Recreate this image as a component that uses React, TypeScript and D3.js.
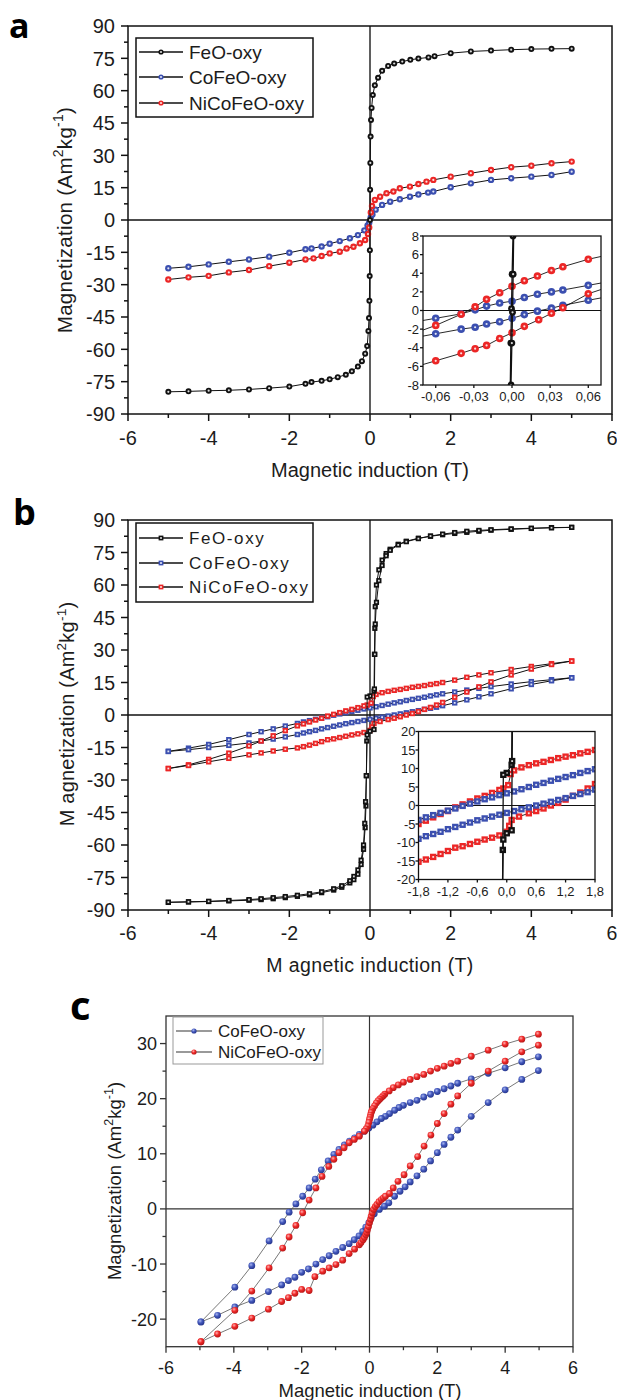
import React from 'react';
import * as d3 from 'd3';

const FONT = "'Liberation Sans', Arial, Helvetica, sans-serif";
const TXT = '#1c1c1c';
const BLUE = '#3b4fb0';
const RED = '#ec2626';
const BLK = '#111111';

// ---------------- Panel a : main loop ----------------
const aFeX = [-5, -4.5, -4, -3.5, -3, -2.5, -2, -1.6, -1.45, -1.2, -1.0, -0.8, -0.6, -0.45, -0.3, -0.2, -0.12, -0.07, -0.04, -0.025, -0.015, -0.008, -0.003, 0, 0.003, 0.008, 0.015, 0.025, 0.04, 0.07, 0.12, 0.2, 0.3, 0.45, 0.6, 0.8, 1.0, 1.2, 1.45, 1.6, 2, 2.5, 3, 3.5, 4, 4.5, 5];
const aFeY = [-79.7, -79.5, -79.2, -79.0, -78.6, -78.0, -77.3, -76.0, -75.2, -74.6, -73.9, -72.9, -71.8, -70.2, -68.0, -65.5, -62.0, -58.5, -51.5, -45.5, -37.5, -26, -14, 0, 14, 26.5, 38.7, 46.4, 52, 58, 62.5, 66, 69.2, 71.5, 72.6, 73.5, 74.3, 74.9, 75.4, 76.0, 77.4, 78.2, 78.6, 79.0, 79.3, 79.4, 79.5];
const aCoX = [-5, -4.5, -4, -3.5, -3, -2.5, -2, -1.6, -1.45, -1.2, -1.0, -0.75, -0.5, -0.3, -0.14, -0.06, -0.02, 0.02, 0.06, 0.14, 0.3, 0.5, 0.74, 0.99, 1.2, 1.44, 1.57, 2, 2.5, 3, 3.5, 4, 4.5, 5];
const aCoY = [-22.4, -21.7, -20.6, -19.4, -18.3, -17.0, -15.2, -13.6, -13.2, -12.3, -11.0, -9.8, -8.5, -7.0, -4.8, -2.5, -1.3, 1.3, 2.5, 4.8, 7.0, 8.5, 9.6, 10.8, 11.8, 12.7, 13.2, 15.2, 17.0, 18.6, 19.4, 20.1, 20.9, 22.4];
const aNiX = [-5, -4.5, -4, -3.5, -3, -2.5, -2, -1.6, -1.4, -1.2, -1.0, -0.75, -0.58, -0.41, -0.25, -0.12, -0.05, -0.02, 0.02, 0.05, 0.12, 0.25, 0.41, 0.58, 0.74, 0.99, 1.2, 1.4, 1.57, 2, 2.5, 3, 3.5, 4, 4.5, 5];
const aNiY = [-27.6, -26.6, -25.9, -24.3, -23.2, -21.4, -19.8, -18.3, -17.8, -16.7, -15.5, -14.7, -13.2, -12.4, -10.8, -9.3, -6.5, -3.5, 3.5, 6.5, 9.3, 10.8, 12.4, 13.2, 14.7, 15.5, 16.7, 17.8, 18.6, 20.1, 21.7, 23.2, 24.5, 25.2, 26.3, 27.1];

// ---------------- Panel a : inset (low field) ----------------
const aiNiUpX = [0.08, 0.06, 0.04, 0.031, 0.02, 0.0097, 0, -0.0097, -0.02, -0.029, -0.04, -0.06, -0.08];
const aiNiUpY = [6.1, 5.5, 4.7, 4.3, 3.7, 3.2, 2.6, 1.9, 1.2, 0.4, -0.4, -1.6, -2.6];
const aiNiDnX = [-0.08, -0.06, -0.04, -0.029, -0.02, -0.0097, 0, 0.0097, 0.021, 0.031, 0.04, 0.06, 0.08];
const aiNiDnY = [-6.2, -5.4, -4.6, -4.1, -3.75, -3.0, -2.4, -1.7, -1.0, -0.3, 0.3, 1.8, 2.7];
const aiCoUpX = [0.08, 0.06, 0.04, 0.031, 0.02, 0.0097, 0, -0.0097, -0.02, -0.029, -0.04, -0.06, -0.08];
const aiCoUpY = [3.2, 2.7, 2.2, 2.0, 1.75, 1.4, 1.0, 0.8, 0.47, 0.07, -0.36, -0.84, -1.3];
const aiCoDnX = [-0.08, -0.06, -0.04, -0.029, -0.02, -0.0097, 0, 0.0097, 0.02, 0.031, 0.04, 0.06, 0.08];
const aiCoDnY = [-3.0, -2.5, -2.0, -1.8, -1.45, -1.2, -0.84, -0.44, -0.07, 0.25, 0.55, 1.1, 1.6];
const aiFeDnX = [0.0025, 0.0008, 0.0001, -0.0004, -0.0009, -0.0025];
const aiFeDnY = [20, 8, 3.9, 0.2, -3.5, -20];
const aiFeUpX = [-0.0025, -0.0008, -0.0001, 0.0004, 0.0009, 0.0025];
const aiFeUpY = [-20, -8, -3.5, -0.2, 3.9, 20];

// ---------------- Panel b : hysteresis loops ----------------
const bFeDescX = [5, 4.5, 4, 3.5, 3, 2.7, 2.4, 2.1, 1.8, 1.5, 1.2, 0.9, 0.7, 0.5, 0.4, 0.3, 0.22, 0.16, 0.13, 0.12, 0.11, 0.1, 0, -0.07, -0.08, -0.09, -0.1, -0.12, -0.16, -0.22, -0.3, -0.4, -0.5, -0.7, -0.9, -1.2, -1.5, -1.8, -2.1, -2.4, -2.7, -3, -3.5, -4, -4.5, -5];
const bFeDescY = [86.6, 86.5, 86.1, 85.7, 85.3, 84.8, 84.3, 83.8, 83.2, 82.5, 81.6, 80.2, 78.8, 76.5, 74.5, 71.5, 67, 60, 50, 40, 28, 11, 8.8, 8.3, -12, -28, -42, -52, -62, -69, -73.5, -76, -77.5, -79.5, -80.8, -82, -83, -83.7, -84.3, -84.8, -85.2, -85.5, -85.8, -86.1, -86.3, -86.5];
const bFeAscX = [-5, -4.5, -4, -3.5, -3, -2.7, -2.4, -2.1, -1.8, -1.5, -1.2, -0.9, -0.7, -0.5, -0.4, -0.3, -0.22, -0.16, -0.13, -0.11, -0.09, -0.07, 0, 0.1, 0.11, 0.12, 0.13, 0.16, 0.22, 0.3, 0.4, 0.5, 0.7, 0.9, 1.2, 1.5, 1.8, 2.1, 2.4, 2.7, 3, 3.5, 4, 4.5, 5];
const bFeAscY = [-86.4, -86.2, -86.0, -85.6, -85.2, -84.8, -84.3, -83.8, -83.2, -82.5, -81.6, -80.2, -78.8, -76.5, -74.5, -71.5, -67, -60, -50, -40, -28, -9.2, -7.5, -6.7, 12, 28, 42, 52, 62, 69, 73.5, 76, 78.5, 80.0, 81.4, 82.6, 83.5, 84.2, 84.8, 85.2, 85.5, 85.9, 86.2, 86.4, 86.6];
const bCoDescX = [5, 4.5, 4, 3.5, 3, 2.7, 2.4, 2.1, 1.8, 1.65, 1.5, 1.35, 1.2, 1.05, 0.9, 0.75, 0.6, 0.45, 0.3, 0.15, 0, -0.15, -0.3, -0.45, -0.6, -0.75, -0.9, -1.05, -1.2, -1.35, -1.5, -1.65, -1.8, -2.1, -2.4, -2.7, -3, -3.5, -4, -4.5, -5];
const bCoDescY = [17.2, 16.3, 15.4, 14.3, 13.1, 12.3, 11.5, 10.6, 9.8, 9.3, 8.8, 8.2, 7.7, 7.2, 6.7, 6.1, 5.6, 5.0, 4.4, 3.8, 3.3, 2.8, 2.2, 1.7, 1.1, 0.5, -0.1, -0.8, -1.4, -2.0, -2.6, -3.2, -3.9, -5.1, -6.4, -7.7, -9.0, -11.4, -13.6, -15.3, -16.8];
const bCoAscX = [-5, -4.5, -4, -3.5, -3, -2.7, -2.4, -2.1, -1.8, -1.65, -1.5, -1.35, -1.2, -1.05, -0.9, -0.75, -0.6, -0.45, -0.3, -0.15, 0, 0.15, 0.3, 0.45, 0.6, 0.75, 0.9, 1.05, 1.2, 1.35, 1.5, 1.65, 1.8, 2.1, 2.4, 2.7, 3, 3.5, 4, 4.5, 5];
const bCoAscY = [-16.8, -16.0, -15.0, -14.0, -12.9, -12.0, -11.1, -10.1, -9.0, -8.3, -7.7, -7.1, -6.4, -5.8, -5.2, -4.6, -4.0, -3.5, -3.0, -2.5, -2.0, -1.5, -1.0, -0.5, 0.0, 0.5, 1.0, 1.5, 2.0, 2.6, 3.1, 3.6, 4.3, 5.6, 7.0, 8.4, 9.8, 12.1, 14.1, 15.8, 17.2];
const bNiDescX = [5, 4.5, 4, 3.5, 3, 2.7, 2.4, 2.1, 1.8, 1.65, 1.5, 1.35, 1.2, 1.05, 0.9, 0.75, 0.6, 0.45, 0.3, 0.15, 0.08, 0.03, -0.07, -0.15, -0.3, -0.45, -0.6, -0.75, -0.9, -1.05, -1.2, -1.35, -1.5, -1.65, -1.8, -2.1, -2.4, -2.7, -3, -3.5, -4, -4.5, -5];
const bNiDescY = [24.9, 23.7, 22.4, 21.0, 19.5, 18.5, 17.4, 16.1, 15.0, 14.5, 14.1, 13.6, 13.2, 12.8, 12.3, 11.8, 11.4, 10.9, 10.3, 9.5, 8.5, 5.5, 4.6, 4.2, 3.4, 2.6, 1.9, 1.1, 0.3, -0.5, -1.5, -2.3, -3.2, -4.1, -5.0, -7.2, -9.6, -12.0, -14.3, -17.6, -20.5, -23.0, -24.7];
const bNiAscX = [-5, -4.5, -4, -3.5, -3, -2.7, -2.4, -2.1, -1.8, -1.65, -1.5, -1.35, -1.2, -1.05, -0.9, -0.75, -0.6, -0.45, -0.3, -0.15, 0, 0.05, 0.1, 0.25, 0.45, 0.6, 0.75, 0.9, 1.05, 1.2, 1.35, 1.5, 1.65, 1.8, 2.1, 2.4, 2.7, 3, 3.5, 4, 4.5, 5];
const bNiAscY = [-24.7, -23.3, -21.6, -20.0, -18.4, -17.5, -16.6, -15.8, -15.2, -14.6, -13.9, -13.1, -12.3, -11.4, -11.0, -10.4, -9.8, -9.2, -8.7, -8.1, -7.1, -5.5, -3.9, -3.0, -2.1, -1.5, -0.8, 0.0, 0.7, 1.6, 2.6, 3.5, 4.6, 5.8, 8.2, 10.6, 13.0, 15.3, 18.5, 21.2, 23.3, 24.9];

// ---------------- Panel c : loops ----------------
const cCoDescX = [4.98, 4.49, 4.0, 3.5, 3.0, 2.6, 2.4, 2.2, 2.0, 1.8, 1.6, 1.4, 1.2, 1.0, 0.87, 0.74, 0.59, 0.47, 0.35, 0.22, 0.1, -0.02, -0.15, -0.3, -0.44, -0.59, -0.74, -0.9, -1.05, -1.22, -1.42, -1.6, -1.78, -1.97, -2.17, -2.37, -2.56, -2.96, -3.47, -3.97, -4.97];
const cCoDescY = [27.6, 26.7, 25.6, 24.6, 23.6, 22.8, 22.3, 21.8, 21.3, 20.8, 20.3, 19.7, 19.3, 18.8, 18.4, 17.9, 17.3, 16.8, 16.4, 15.8, 15.2, 14.7, 14.1, 13.5, 12.9, 12.3, 11.6, 10.8, 9.9, 8.7, 7.1, 5.4, 3.8, 2.3, 0.9, -0.6, -2.3, -5.8, -10.3, -14.2, -20.5];
const cCoAscX = [-4.97, -4.48, -3.97, -3.47, -2.98, -2.59, -2.39, -2.2, -2.0, -1.8, -1.58, -1.38, -1.19, -0.99, -0.79, -0.6, -0.45, -0.31, -0.2, -0.11, -0.02, 0.05, 0.14, 0.29, 0.44, 0.57, 0.74, 0.9, 1.05, 1.2, 1.4, 1.6, 1.8, 2.0, 2.2, 2.4, 2.6, 3.0, 3.5, 4.0, 4.49, 4.98];
const cCoAscY = [-20.5, -19.3, -17.8, -16.6, -15.0, -13.8, -13.0, -12.4, -11.5, -10.9, -10.0, -9.2, -8.5, -7.7, -7.0, -6.3, -5.6, -4.9, -4.1, -3.3, -2.5, -1.6, -0.9, -0.1, 0.5, 1.1, 2.3, 3.2, 4.0, 4.9, 6.0, 7.2, 8.7, 10.2, 11.7, 13.0, 14.3, 16.8, 19.3, 21.6, 23.5, 25.1];
const cNiDescX = [4.98, 4.49, 4.0, 3.5, 3.0, 2.6, 2.4, 2.2, 2.0, 1.8, 1.6, 1.4, 1.2, 1.0, 0.85, 0.7, 0.58, 0.45, 0.4, 0.35, 0.3, 0.25, 0.2, 0.15, 0.1, 0.07, 0.05, 0.03, 0.015, 0, -0.02, -0.05, -0.1, -0.15, -0.3, -0.45, -0.6, -0.75, -0.9, -1.05, -1.2, -1.4, -1.58, -1.78, -1.97, -2.17, -2.37, -2.56, -2.96, -3.47, -3.97, -4.97];
const cNiDescY = [31.7, 30.8, 29.9, 28.8, 27.7, 26.8, 26.4, 25.9, 25.5, 25.0, 24.4, 24.0, 23.5, 23.0, 22.5, 22.0, 21.4, 20.8, 20.5, 20.2, 19.9, 19.6, 19.2, 18.7, 18.2, 17.8, 17.5, 17.0, 16.6, 16.2, 15.7, 15.0, 14.5, 14.1, 13.2, 12.6, 12.0, 11.1, 10.2, 9.0, 7.7, 5.9, 3.8, 1.6, -0.7, -3.0, -5.1, -7.1, -10.7, -14.9, -18.4, -24.1];
const cNiAscX = [-4.97, -4.48, -3.97, -3.47, -2.98, -2.59, -2.39, -2.2, -2.0, -1.78, -1.61, -1.38, -1.19, -0.99, -0.79, -0.6, -0.44, -0.3, -0.25, -0.19, -0.15, -0.11, -0.08, -0.06, -0.03, 0, 0.03, 0.05, 0.08, 0.12, 0.17, 0.22, 0.28, 0.35, 0.41, 0.47, 0.59, 0.7, 0.84, 1.02, 1.2, 1.42, 1.61, 1.81, 2.0, 2.2, 2.4, 2.6, 3.0, 3.5, 4.0, 4.49, 4.98];
const cNiAscY = [-24.1, -22.7, -21.3, -19.8, -18.2, -16.8, -16.1, -15.3, -14.6, -14.8, -12.3, -11.3, -10.7, -10.1, -9.3, -8.1, -7.3, -6.5, -6.1, -5.6, -5.2, -4.7, -4.3, -3.8, -3.2, -2.5, -1.9, -1.3, -0.7, -0.1, 0.4, 0.8, 1.3, 1.7, 2.0, 2.3, 2.8, 3.8, 5.0, 6.2, 7.8, 9.5, 11.4, 13.4, 15.5, 17.3, 19.0, 20.5, 22.8, 25.0, 26.8, 28.5, 29.7];

// ---------------- Ticks & labels ----------------
const mainXTicks = [-6, -4, -2, 0, 2, 4, 6];
const mainXMinor = [-5, -3, -1, 1, 3, 5];
const mainYTicks = [-90, -75, -60, -45, -30, -15, 0, 15, 30, 45, 60, 75, 90];
const mainYMinor = [-82.5, -67.5, -52.5, -37.5, -22.5, -7.5, 7.5, 22.5, 37.5, 52.5, 67.5, 82.5];
const aInsetXTicks = [-0.06, -0.03, 0, 0.03, 0.06];
const aInsetYTicks = [-8, -6, -4, -2, 0, 2, 4, 6, 8];
const bInsetXTicks = [-1.8, -1.2, -0.6, 0, 0.6, 1.2, 1.8];
const bInsetYTicks = [-20, -15, -10, -5, 0, 5, 10, 15, 20];
const cXTicks = [-6, -4, -2, 0, 2, 4, 6];
const cXMinor = [-5, -3, -1, 1, 3, 5];
const cYTicks = [-20, -10, 0, 10, 20, 30];
const cYMinor = [-15, -5, 5, 15, 25];
const names3 = ['FeO-oxy', 'CoFeO-oxy', 'NiCoFeO-oxy'];
const names2 = ['CoFeO-oxy', 'NiCoFeO-oxy'];

type Br = { x: number[]; y: number[] };
type Sc = d3.ScaleLinear<number, number>;

const lineGen = d3.line<[number, number]>();

function Marker({ cx, cy, color, shape, r }: { cx: number; cy: number; color: string; shape: string; r: number }) {
  if (shape === 'square') {
    return (
      <g>
        <rect x={cx - r} y={cy - r} width={2 * r} height={2 * r} fill={color} />
        <rect x={cx - 0.9} y={cy - 0.9} width={1.8} height={1.8} fill="#fff" opacity={0.85} />
      </g>
    );
  }
  if (shape === 'sphere') {
    return <circle cx={cx} cy={cy} r={r} fill={color === BLUE ? 'url(#gBlue)' : 'url(#gRed)'} />;
  }
  return (
    <g>
      <circle cx={cx} cy={cy} r={r} fill={color} />
      <circle cx={cx} cy={cy} r={1.1} fill="#fff" opacity={0.85} />
    </g>
  );
}

function SeriesG({ branches, sx, sy, color, shape, r, lineColor, lw }: { branches: Br[]; sx: Sc; sy: Sc; color: string; shape: string; r: number; lineColor: string; lw: number }) {
  return (
    <g>
      {branches.map((b, i) => {
        const pts = b.x.map((x, j) => [sx(x), sy(b.y[j])] as [number, number]);
        return (
          <g key={i}>
            <path d={lineGen(pts) || ''} fill="none" stroke={lineColor} strokeWidth={lw} />
            {pts.map(([px, py], j) => (
              <Marker key={j} cx={px} cy={py} color={color} shape={shape} r={r} />
            ))}
          </g>
        );
      })}
    </g>
  );
}

function Frame(p: {
  sx: Sc; sy: Sc; xT: number[]; xM: number[]; yT: number[]; yM: number[];
  xFmt: (v: number) => string; yFmt: (v: number) => string;
  maj: number; min: number; fs: number; stroke: string; sw: number;
  xLabY: number; yLabGap: number; zero: boolean; zeroV: boolean; ls?: number;
}) {
  const [x0, x1] = p.sx.range();
  const [y0, y1] = p.sy.range();
  return (
    <g>
      {p.zero && <line x1={x0} x2={x1} y1={p.sy(0)} y2={p.sy(0)} stroke={p.stroke} strokeWidth={p.sw * 0.9} />}
      {p.zeroV && <line x1={p.sx(0)} x2={p.sx(0)} y1={y1} y2={y0} stroke={p.stroke} strokeWidth={p.sw * 0.9} />}
      <rect x={x0} y={y1} width={x1 - x0} height={y0 - y1} fill="none" stroke={p.stroke} strokeWidth={p.sw} />
      {p.xT.map((v) => (
        <line key={'xt' + v} x1={p.sx(v)} x2={p.sx(v)} y1={y0} y2={y0 + p.maj} stroke={p.stroke} strokeWidth={p.sw} />
      ))}
      {p.xM.map((v) => (
        <line key={'xm' + v} x1={p.sx(v)} x2={p.sx(v)} y1={y0} y2={y0 + p.min} stroke={p.stroke} strokeWidth={p.sw} />
      ))}
      {p.yT.map((v) => (
        <line key={'yt' + v} x1={x0 - p.maj} x2={x0} y1={p.sy(v)} y2={p.sy(v)} stroke={p.stroke} strokeWidth={p.sw} />
      ))}
      {p.yM.map((v) => (
        <line key={'ym' + v} x1={x0 - p.min} x2={x0} y1={p.sy(v)} y2={p.sy(v)} stroke={p.stroke} strokeWidth={p.sw} />
      ))}
      {p.xT.map((v) => (
        <text key={'xl' + v} x={p.sx(v)} y={p.xLabY} textAnchor="middle" fontSize={p.fs} fontFamily={FONT} fill={TXT} letterSpacing={p.ls || 0}>
          {p.xFmt(v)}
        </text>
      ))}
      {p.yT.map((v) => (
        <text key={'yl' + v} x={x0 - p.yLabGap} y={p.sy(v)} dy="0.36em" textAnchor="end" fontSize={p.fs} fontFamily={FONT} fill={TXT} letterSpacing={p.ls || 0}>
          {p.yFmt(v)}
        </text>
      ))}
    </g>
  );
}

function YLabel({ x, y, fs, pre, ls }: { x: number; y: number; fs: number; pre: string; ls?: number }) {
  const up = fs * 0.42;
  return (
    <text transform={`translate(${x},${y}) rotate(-90)`} textAnchor="middle" fontSize={fs} fontFamily={FONT} fill={TXT} letterSpacing={ls || 0}>
      {pre + ' (Am'}
      <tspan dy={-up} fontSize={fs * 0.68}>2</tspan>
      <tspan dy={up}>kg</tspan>
      <tspan dy={-up} fontSize={fs * 0.68}>-1</tspan>
      <tspan dy={up}>)</tspan>
    </text>
  );
}

function Legend(p: { x: number; y: number; w: number; h: number; rows: number[]; names: string[]; colors: string[]; shape: string; r: number; fs: number; ls: number; stroke: string; lineCol: string; lineLen: number; sw: number }) {
  return (
    <g>
      <rect x={p.x} y={p.y} width={p.w} height={p.h} fill="#fff" stroke={p.stroke} strokeWidth={p.sw} />
      {p.names.map((n, i) => (
        <g key={n}>
          <line x1={p.x + 3} x2={p.x + 3 + p.lineLen} y1={p.rows[i]} y2={p.rows[i]} stroke={p.lineCol} strokeWidth={1.3} />
          <Marker cx={p.x + 3 + p.lineLen / 2} cy={p.rows[i]} color={p.colors[i]} shape={p.shape} r={p.r} />
          <text x={p.x + p.lineLen + 9} y={p.rows[i]} dy="0.36em" fontSize={p.fs} fontFamily={FONT} fill={TXT} letterSpacing={p.ls}>
            {n}
          </text>
        </g>
      ))}
    </g>
  );
}

const fmtInt = (v: number) => String(v);
const fmtC2 = (v: number) => v.toFixed(2).replace('.', ',');
const fmtC1 = (v: number) => v.toFixed(1).replace('.', ',');

export default function App() {
  // ---- panel a scales
  const axX = d3.scaleLinear().domain([-6, 6]).range([128, 612]);
  const ayY = d3.scaleLinear().domain([-90, 90]).range([414, 26]);
  const aiX = d3.scaleLinear().domain([-0.07, 0.07]).range([423, 601]);
  const aiY = d3.scaleLinear().domain([-8, 8]).range([385, 236]);
  // ---- panel b scales
  const bxX = d3.scaleLinear().domain([-6, 6]).range([128, 612]);
  const byY = d3.scaleLinear().domain([-90, 90]).range([910, 520]);
  const biX = d3.scaleLinear().domain([-1.8, 1.8]).range([418.5, 595]);
  const biY = d3.scaleLinear().domain([-20, 20]).range([879.5, 731.5]);
  // ---- panel c scales
  const cX = d3.scaleLinear().domain([-6, 6]).range([166, 573]);
  const cY = d3.scaleLinear().domain([-25, 35]).range([1346.7, 1016]);

  return (
    <svg width={617} height={1400} style={{ position: 'absolute', left: 0, top: 0, background: '#fff' }} xmlns="http://www.w3.org/2000/svg">
      <defs>
        <radialGradient id="gBlue" cx="0.38" cy="0.35" r="0.7">
          <stop offset="0" stopColor="#a9b6ee" />
          <stop offset="0.45" stopColor="#4459bd" />
          <stop offset="1" stopColor="#23338a" />
        </radialGradient>
        <radialGradient id="gRed" cx="0.38" cy="0.35" r="0.7">
          <stop offset="0" stopColor="#ffb0b0" />
          <stop offset="0.45" stopColor="#f02a2a" />
          <stop offset="1" stopColor="#b31515" />
        </radialGradient>
        <clipPath id="clipA"><rect x={128} y={26} width={484} height={388} /></clipPath>
        <clipPath id="clipAi"><rect x={423} y={236} width={178} height={149} /></clipPath>
        <clipPath id="clipB"><rect x={128} y={520} width={484} height={390} /></clipPath>
        <clipPath id="clipBi"><rect x={418.5} y={731.5} width={176.5} height={148} /></clipPath>
        <clipPath id="clipC"><rect x={166} y={1016} width={407} height={330.7} /></clipPath>
      </defs>
      <rect x={0} y={0} width={617} height={1400} fill="#fff" />

      {/* ================= PANEL a ================= */}
      <text x={9} y={38} fontSize={34} fontWeight="bold" fontFamily="'Open Sans', 'DejaVu Sans', sans-serif" fill="#000">a</text>
      <Frame sx={axX} sy={ayY} xT={mainXTicks} xM={mainXMinor} yT={mainYTicks} yM={mainYMinor} xFmt={fmtInt} yFmt={fmtInt}
        maj={7} min={4} fs={20} stroke={BLK} sw={1.5} xLabY={445} yLabGap={13} zero zeroV />
      <g clipPath="url(#clipA)">
        <SeriesG branches={[{ x: aCoX, y: aCoY }]} sx={axX} sy={ayY} color={BLUE} shape="circle" r={3.2} lineColor={BLK} lw={1} />
        <SeriesG branches={[{ x: aNiX, y: aNiY }]} sx={axX} sy={ayY} color={RED} shape="circle" r={3.2} lineColor={BLK} lw={1} />
        <SeriesG branches={[{ x: aFeX, y: aFeY }]} sx={axX} sy={ayY} color={BLK} shape="circle" r={3} lineColor={BLK} lw={1} />
      </g>
      <Legend x={136} y={38} w={177} h={79} rows={[52, 77, 103]} names={names3} colors={[BLK, BLUE, RED]} shape="circle" r={2.6}
        fs={19} ls={0} stroke={BLK} lineCol={BLK} lineLen={44} sw={1.5} />
      <text x={370} y={477} textAnchor="middle" fontSize={20} fontFamily={FONT} fill={TXT}>Magnetic induction (T)</text>
      <YLabel x={72} y={220} fs={20.5} pre="Magnetization" ls={0.3} />

      {/* inset a */}
      <rect x={423} y={236} width={178} height={149} fill="#fff" />
      <line x1={423} x2={601} y1={aiY(0)} y2={aiY(0)} stroke={BLK} strokeWidth={1.2} />
      <g clipPath="url(#clipAi)">
        <SeriesG branches={[{ x: aiCoUpX, y: aiCoUpY }, { x: aiCoDnX, y: aiCoDnY }]} sx={aiX} sy={aiY} color={BLUE} shape="circle" r={3.8} lineColor={BLK} lw={0.9} />
        <SeriesG branches={[{ x: aiNiUpX, y: aiNiUpY }, { x: aiNiDnX, y: aiNiDnY }]} sx={aiX} sy={aiY} color={RED} shape="circle" r={3.8} lineColor={BLK} lw={0.9} />
        <SeriesG branches={[{ x: aiFeDnX, y: aiFeDnY }, { x: aiFeUpX, y: aiFeUpY }]} sx={aiX} sy={aiY} color={BLK} shape="circle" r={3.4} lineColor={BLK} lw={1.3} />
      </g>
      <Frame sx={aiX} sy={aiY} xT={aInsetXTicks} xM={[]} yT={aInsetYTicks} yM={[]} xFmt={fmtC2} yFmt={fmtInt}
        maj={3} min={0} fs={13} stroke={BLK} sw={1.3} xLabY={401} yLabGap={4} zero={false} zeroV={false} />

      {/* ================= PANEL b ================= */}
      <text x={13} y={525} fontSize={36} fontWeight="bold" fontFamily="'Open Sans', 'DejaVu Sans', sans-serif" fill="#000">b</text>
      <Frame sx={bxX} sy={byY} xT={mainXTicks} xM={mainXMinor} yT={mainYTicks} yM={mainYMinor} xFmt={fmtInt} yFmt={fmtInt}
        maj={7} min={4} fs={19.5} stroke={BLK} sw={1.5} xLabY={940} yLabGap={13} zero zeroV />
      <g clipPath="url(#clipB)">
        <SeriesG branches={[{ x: bCoDescX, y: bCoDescY }, { x: bCoAscX, y: bCoAscY }]} sx={bxX} sy={byY} color={BLUE} shape="square" r={2.7} lineColor={BLK} lw={1} />
        <SeriesG branches={[{ x: bNiDescX, y: bNiDescY }, { x: bNiAscX, y: bNiAscY }]} sx={bxX} sy={byY} color={RED} shape="square" r={2.7} lineColor={BLK} lw={1} />
        <SeriesG branches={[{ x: bFeDescX, y: bFeDescY }, { x: bFeAscX, y: bFeAscY }]} sx={bxX} sy={byY} color={BLK} shape="square" r={2.6} lineColor={BLK} lw={1} />
      </g>
      <Legend x={136} y={523} w={177} h={79} rows={[538, 563, 587]} names={names3} colors={[BLK, BLUE, RED]} shape="square" r={2.4}
        fs={17} ls={1.6} stroke={BLK} lineCol={BLK} lineLen={44} sw={1.5} />
      <text x={370} y={972} textAnchor="middle" fontSize={19.5} fontFamily={FONT} fill={TXT} letterSpacing={0.4}>M agnetic induction (T)</text>
      <YLabel x={74} y={714} fs={20} pre="M agnetization" ls={0.2} />

      {/* inset b */}
      <rect x={418.5} y={731.5} width={176.5} height={148} fill="#fff" />
      <line x1={418.5} x2={595} y1={biY(0)} y2={biY(0)} stroke={BLK} strokeWidth={1.2} />
      <g clipPath="url(#clipBi)">
        <SeriesG branches={[{ x: bNiDescX, y: bNiDescY }, { x: bNiAscX, y: bNiAscY }]} sx={biX} sy={biY} color={RED} shape="square" r={3.2} lineColor={BLK} lw={0.9} />
        <SeriesG branches={[{ x: bCoDescX, y: bCoDescY }, { x: bCoAscX, y: bCoAscY }]} sx={biX} sy={biY} color={BLUE} shape="square" r={3.2} lineColor={BLK} lw={0.9} />
        <SeriesG branches={[{ x: bFeDescX, y: bFeDescY }, { x: bFeAscX, y: bFeAscY }]} sx={biX} sy={biY} color={BLK} shape="square" r={3.2} lineColor={BLK} lw={1.3} />
      </g>
      <Frame sx={biX} sy={biY} xT={bInsetXTicks} xM={[]} yT={bInsetYTicks} yM={[]} xFmt={fmtC1} yFmt={fmtInt}
        maj={3} min={0} fs={13} stroke={BLK} sw={1.3} xLabY={896} yLabGap={3} zero={false} zeroV={false} />

      {/* ================= PANEL c ================= */}
      <text x={70} y={1020} fontSize={40} fontWeight="bold" fontFamily="'Open Sans', 'DejaVu Sans', sans-serif" fill="#000">c</text>
      <Frame sx={cX} sy={cY} xT={cXTicks} xM={cXMinor} yT={cYTicks} yM={cYMinor} xFmt={fmtInt} yFmt={fmtInt}
        maj={6} min={3.5} fs={18} stroke="#333" sw={1.3} xLabY={1374} yLabGap={9} zero zeroV />
      <g clipPath="url(#clipC)">
        <SeriesG branches={[{ x: cCoDescX, y: cCoDescY }, { x: cCoAscX, y: cCoAscY }]} sx={cX} sy={cY} color={BLUE} shape="sphere" r={3.4} lineColor="#555" lw={0.8} />
        <SeriesG branches={[{ x: cNiDescX, y: cNiDescY }, { x: cNiAscX, y: cNiAscY }]} sx={cX} sy={cY} color={RED} shape="sphere" r={3.4} lineColor="#555" lw={0.8} />
      </g>
      <Legend x={173} y={1017} w={150} h={47} rows={[1031, 1052]} names={names2} colors={[BLUE, RED]} shape="sphere" r={2.6}
        fs={17} ls={0} stroke="#999" lineCol="#777" lineLen={36} sw={1} />
      <text x={370} y={1397} textAnchor="middle" fontSize={18.5} fontFamily={FONT} fill={TXT}>Magnetic induction (T)</text>
      <YLabel x={121} y={1181} fs={18.5} pre="Magnetization" />
    </svg>
  );
}
